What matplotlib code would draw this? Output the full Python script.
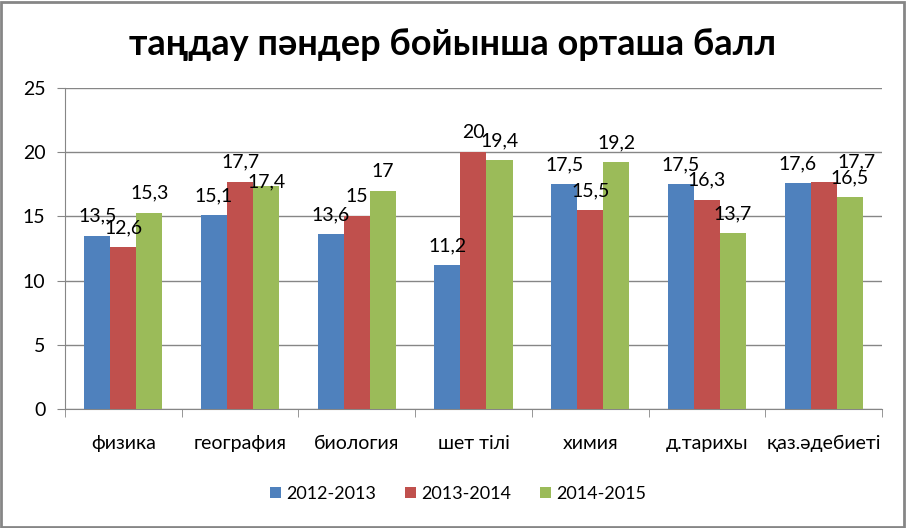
import matplotlib.pyplot as plt
import numpy as np
from matplotlib.patches import Rectangle

# Data
title = "таңдау пәндер бойынша орташа балл"
subjects = ["физика", "география", "биология", "шет тілі", "химия", "д.тарихы", "қаз.әдебиеті"]
years = ["2012-2013", "2013-2014", "2014-2015"]
scores_2012 = [13.5, 15.1, 13.6, 11.2, 17.5, 17.5, 17.6]
scores_2013 = [12.6, 17.7, 15.0, 20.0, 15.5, 16.3, 17.7]
scores_2014 = [15.3, 17.4, 17.0, 19.4, 19.2, 13.7, 16.5]
colors = ["#4f81bd", "#c0504d", "#9bbb59"]

plt.rcParams['font.family'] = ['Lato', 'DejaVu Sans']

fig = plt.figure(figsize=(9.06, 5.28), dpi=100)
ax = fig.add_axes([0.0717, 0.2254, 0.9018, 0.6079])

# label nudges (series, category) -> offset in points, as Excel placed them
nudge = {(1, 6): (24, 14), (2, 1): (0, 3)}

x = np.arange(len(subjects))
w = 0.223
series = [scores_2012, scores_2013, scores_2014]
for i, (vals, name, c) in enumerate(zip(series, years, colors)):
    pos = x + (i - 1) * w
    ax.bar(pos, vals, width=w, color=c, label=name, zorder=3)
    for j, (px, v) in enumerate(zip(pos, vals)):
        off = nudge.get((i, j), (0, 14))
        ax.annotate(f"{v:g}".replace('.', ','), (px, v), xytext=off,
                    textcoords='offset points', ha='center', va='center',
                    fontsize=14, color='black', zorder=4)

ax.set_xlim(-0.5, len(subjects) - 0.5)
ax.set_ylim(0, 25)
ax.set_yticks(range(0, 26, 5))
ax.yaxis.grid(True, color='#868686', linewidth=1, zorder=0)
ax.set_xticks(x)
ax.set_xticklabels(subjects, fontsize=14)
ax.set_xticks(np.arange(-0.5, len(subjects), 1), minor=True)
ax.tick_params(axis='x', which='major', length=0, pad=19)
ax.tick_params(axis='x', which='minor', length=6, color='#868686')
ax.tick_params(axis='y', length=6, color='#868686', labelsize=14, pad=8)
for s in ['top', 'right']:
    ax.spines[s].set_visible(False)
for s in ['left', 'bottom']:
    ax.spines[s].set_color('#868686')

fig.text(0.5, 0.915, title, ha='center', va='center', fontsize=26, fontweight='bold')

ax.legend(loc='center', bbox_to_anchor=(0.506, 0.0647), bbox_transform=fig.transFigure,
          ncol=3, frameon=False, fontsize=13, handlelength=0.6, handleheight=0.6,
          handletextpad=0.3, columnspacing=1.6)

fig.patches.append(Rectangle((0.001, 0.002), 0.997, 0.995, transform=fig.transFigure,
                             fill=False, edgecolor='#868686', linewidth=2))

fig.savefig("out.png", dpi=100)
